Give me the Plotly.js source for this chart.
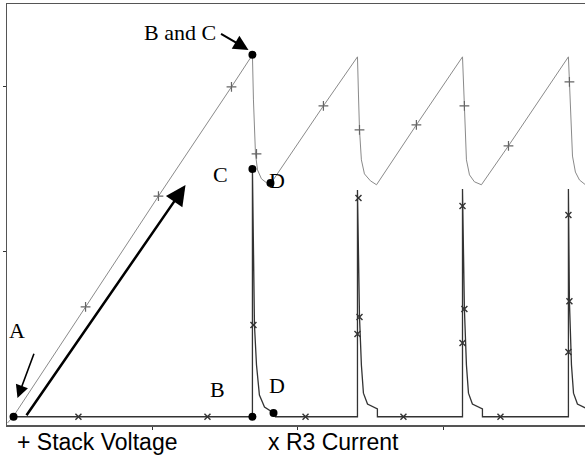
<!DOCTYPE html>
<html>
<head>
<meta charset="utf-8">
<script src="https://cdn.plot.ly/plotly-3.0.1.min.js"></script>
<style>html,body{margin:0;padding:0;background:#fff;overflow:hidden}</style>
</head>
<body>
<div id="chart" style="width:585px;height:458px"></div>
<script>
// Stack Voltage (line)
const voltX = [0.003, 0.045, 0.540, 1.041, 1.543, 1.687, 1.694, 1.708, 1.722, 1.749, 1.784, 1.811,
  2.175, 2.409, 2.416, 2.423, 2.436, 2.457, 2.498, 2.540,
  2.814, 3.131, 3.144, 3.158, 3.179, 3.213, 3.261,
  3.447, 3.859, 3.866, 3.873, 3.887, 3.907, 3.935, 3.976];
const voltY = [-0.038, 0.004, 0.665, 1.336, 1.998, 2.192, 1.919, 1.592, 1.495, 1.441, 1.417, 1.410,
  1.883, 2.180, 1.949, 1.737, 1.556, 1.471, 1.429, 1.405,
  1.768, 2.180, 1.883, 1.556, 1.465, 1.423, 1.405,
  1.641, 2.180, 2.028, 1.798, 1.579, 1.482, 1.434, 1.405];
// Stack Voltage (+ markers)
const voltMarkX = [0.540, 1.041, 1.543, 1.715, 2.175, 2.423, 2.814, 3.144, 3.447, 3.866];
const voltMarkY = [0.665, 1.336, 1.998, 1.592, 1.883, 1.737, 1.768, 1.883, 1.641, 2.028];

// R3 Current (line)
const currX = [0.045, 1.687, 1.687, 1.694, 1.701, 1.715, 1.735, 1.770, 1.825, 1.845,
  2.409, 2.409, 2.416, 2.423, 2.436, 2.450, 2.478, 2.519, 2.546, 2.546,
  3.131, 3.131, 3.137, 3.144, 3.158, 3.172, 3.199, 3.241, 3.268, 3.268,
  3.859, 3.859, 3.866, 3.866, 3.880, 3.894, 3.921, 3.976];
const currY = [0, 0, 1.506, 1.010, 0.556, 0.313, 0.131, 0.059, 0.028, 0,
  0, 1.374, 0.950, 0.604, 0.313, 0.143, 0.077, 0.059, 0.047, 0,
  0, 1.379, 0.950, 0.652, 0.313, 0.143, 0.077, 0.059, 0.047, 0,
  0, 1.379, 0.950, 0.700, 0.313, 0.143, 0.077, 0.053];
// R3 Current (x markers)
const currMarkX = [0.491, 1.378, 1.694, 2.052, 2.416, 2.423, 2.409, 2.725, 3.131, 3.144, 3.131, 3.392, 3.859, 3.866, 3.859];
const currMarkY = [0, 0, 0.556, 0, 1.325, 0.604, 0.501, 0, 1.276, 0.652, 0.447, 0, 1.222, 0.700, 0.392];

// Labelled points A, B, C, D
const dotX = [0.045, 1.687, 1.811, 1.687, 1.687, 1.832];
const dotY = [0, 2.192, 1.416, 1.500, 0, 0.022];

const labels = ['A', 'B and C', 'C', 'D', 'B', 'D'];
const labelX = [0.066, 1.190, 1.465, 1.857, 1.447, 1.857];
const labelY = [0.520, 2.325, 1.470, 1.430, 0.168, 0.192];

const legendTexts = ['+ Stack Voltage', 'x R3 Current'];

const traces = [
  {x: voltX, y: voltY, mode: 'lines', line: {color: '#8a8a8a', width: 1}, hoverinfo: 'skip'},
  {x: voltMarkX, y: voltMarkY, mode: 'markers', marker: {symbol: 'cross-thin-open', size: 7, color: '#666', line: {color: '#666', width: 1.2}}, hoverinfo: 'skip'},
  {x: currX, y: currY, mode: 'lines', line: {color: '#333', width: 1.3}, hoverinfo: 'skip'},
  {x: currMarkX, y: currMarkY, mode: 'markers', marker: {symbol: 'x-thin-open', size: 6, color: '#333', line: {color: '#333', width: 1.4}}, hoverinfo: 'skip'},
  {x: dotX, y: dotY, mode: 'markers', marker: {symbol: 'circle', size: 8, color: '#000'}, hoverinfo: 'skip'}
];

const annotations = [];
labels.forEach((t, i) => annotations.push({
  x: labelX[i], y: labelY[i], xref: 'x', yref: 'y', text: t, showarrow: false,
  font: {family: 'Liberation Serif, Times New Roman, serif', size: 22, color: '#000'},
  xanchor: 'center', yanchor: 'middle'
}));
// arrows
annotations.push({x: 1.227, y: 1.403, ax: 0.127, ay: 0, xref: 'x', yref: 'y', axref: 'x', ayref: 'y',
  text: '', showarrow: true, arrowhead: 2, arrowsize: 1.6, arrowwidth: 2.5, arrowcolor: '#000', standoff: 0});
annotations.push({x: 0.072, y: 0.113, ax: 0.189, ay: 0.391, xref: 'x', yref: 'y', axref: 'x', ayref: 'y',
  text: '', showarrow: true, arrowhead: 2, arrowsize: 1.6, arrowwidth: 1.6, arrowcolor: '#000', standoff: 0});
annotations.push({x: 1.660, y: 2.222, ax: 1.461, ay: 2.325, xref: 'x', yref: 'y', axref: 'x', ayref: 'y',
  text: '', showarrow: true, arrowhead: 2, arrowsize: 1.5, arrowwidth: 2, arrowcolor: '#000', standoff: 0});
// legend texts
annotations.push({x: 0.013, y: -0.04, xref: 'paper', yref: 'paper', text: legendTexts[0], showarrow: false,
  font: {family: 'Liberation Sans, Arial, sans-serif', size: 23, color: '#000'}, xanchor: 'left', yanchor: 'middle'});
annotations.push({x: 0.448, y: -0.04, xref: 'paper', yref: 'paper', text: legendTexts[1], showarrow: false,
  font: {family: 'Liberation Sans, Arial, sans-serif', size: 23, color: '#000'}, xanchor: 'left', yanchor: 'middle'});

const layout = {
  width: 585, height: 458,
  margin: {l: 7, r: 0, t: 4, b: 33},
  paper_bgcolor: '#fff', plot_bgcolor: '#fff',
  showlegend: false,
  xaxis: {range: [0, 3.973], showgrid: false, zeroline: false, showline: true, mirror: true,
    linecolor: '#555', linewidth: 1.5, ticks: 'outside', ticklen: 3, tickcolor: '#333',
    tickvals: [1, 2, 3], showticklabels: false},
  yaxis: {range: [-0.05, 2.5], showgrid: false, zeroline: false, showline: true, mirror: false,
    linecolor: '#555', linewidth: 1.5, ticks: 'outside', ticklen: 3, tickcolor: '#333',
    tickvals: [1, 2], showticklabels: false},
  annotations: annotations
};

Plotly.newPlot('chart', traces, layout, {staticPlot: true, displayModeBar: false});
</script>
</body>
</html>
